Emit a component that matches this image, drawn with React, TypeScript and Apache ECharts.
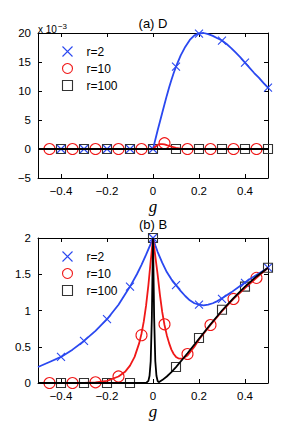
import React, { useEffect, useRef } from "react";
import * as echarts from "echarts";

// ---------- tick values ----------
const xTicks = [-0.4, -0.2, 0, 0.2, 0.4];

// ---------- (a) D, values in units of 1e-3 ----------
const gMarkA = [-0.4, -0.3, -0.2, -0.1, 0, 0.1, 0.2, 0.3, 0.4, 0.5];
const dR2Mark = [0, 0, 0, 0, 0, 14.2, 19.9, 18.7, 14.9, 10.6];
const gCircA = [-0.45, -0.35, -0.25, -0.15, -0.05, 0.05, 0.15, 0.25, 0.35, 0.45];
const dR10Mark = [0, 0, 0, 0, 0, 1.0, 0, 0, 0, 0];
const dR100Mark = [0, 0, 0, 0, 0, 0, 0, 0, 0, 0];

const gD2Line = [-0.5, 0, 0.01, 0.02, 0.03, 0.04, 0.05, 0.06, 0.07, 0.08, 0.09, 0.1, 0.12, 0.14, 0.16, 0.18, 0.2, 0.22, 0.24, 0.26, 0.28, 0.3, 0.32, 0.34, 0.36, 0.38, 0.4, 0.42, 0.44, 0.46, 0.48, 0.5];
const dR2Line = [0, 0, 1.6, 3.2, 4.7, 6.2, 7.7, 9.2, 10.6, 11.9, 13.1, 14.2, 16.1, 17.6, 18.8, 19.6, 19.95, 20.0, 19.8, 19.5, 19.1, 18.7, 18.1, 17.4, 16.6, 15.8, 14.9, 14.0, 13.1, 12.3, 11.4, 10.6];
const gD10Line = [-0.5, 0, 0.01, 0.02, 0.03, 0.04, 0.05, 0.06, 0.08, 0.1, 0.12, 0.15, 0.2, 0.5];
const dR10Line = [0, 0, 0.4, 0.7, 0.85, 0.85, 0.78, 0.65, 0.4, 0.2, 0.08, 0.02, 0, 0];
const gD100Line = [-0.5, 0.5];
const dR100Line = [0, 0];

// ---------- (b) B ----------
const bR2Mark = [0.36, 0.58, 0.88, 1.33, 2.0, 1.35, 1.08, 1.16, 1.38, 1.59];
const bR10Mark = [0, 0, 0.01, 0.09, 0.66, 0.81, 0.4, 0.8, 1.16, 1.45];
const bR100Mark = [0, 0, 0, 0, 2.0, 0.22, 0.62, 1.01, 1.33, 1.59];

const gB2Line = [-0.5, -0.45, -0.4, -0.35, -0.3, -0.25, -0.2, -0.15, -0.1, -0.07, -0.05, -0.03, -0.01, 0, 0.01, 0.02, 0.04, 0.06, 0.08, 0.1, 0.12, 0.14, 0.16, 0.18, 0.2, 0.22, 0.24, 0.26, 0.28, 0.3, 0.34, 0.38, 0.42, 0.46, 0.5];
const bR2Line = [0.22, 0.29, 0.36, 0.46, 0.58, 0.72, 0.88, 1.08, 1.33, 1.5, 1.63, 1.77, 1.92, 2.0, 1.9, 1.81, 1.66, 1.53, 1.43, 1.35, 1.27, 1.2, 1.14, 1.1, 1.08, 1.07, 1.08, 1.1, 1.13, 1.17, 1.25, 1.34, 1.43, 1.51, 1.59];
const gB10Line = [-0.5, -0.3, -0.25, -0.2, -0.15, -0.12, -0.1, -0.08, -0.06, -0.05, -0.04, -0.03, -0.02, -0.01, 0, 0.01, 0.02, 0.03, 0.04, 0.05, 0.06, 0.07, 0.08, 0.09, 0.1, 0.11, 0.12, 0.13, 0.15, 0.18, 0.2, 0.25, 0.3, 0.35, 0.4, 0.45, 0.5];
const bR10Line = [0, 0, 0.01, 0.03, 0.09, 0.16, 0.24, 0.36, 0.55, 0.68, 0.85, 1.07, 1.35, 1.68, 2.0, 1.75, 1.5, 1.22, 0.98, 0.8, 0.66, 0.55, 0.46, 0.4, 0.36, 0.34, 0.335, 0.34, 0.38, 0.5, 0.6, 0.8, 0.99, 1.16, 1.31, 1.45, 1.59];
const gB100Line = [-0.5, -0.03, -0.02, -0.015, -0.01, -0.005, 0, 0.005, 0.01, 0.015, 0.02, 0.025, 0.04, 0.06, 0.08, 0.1, 0.15, 0.2, 0.25, 0.3, 0.35, 0.4, 0.45, 0.5];
const bR100Line = [0, 0, 0.03, 0.1, 0.3, 0.9, 2.0, 0.9, 0.3, 0.1, 0.03, 0.01, 0.04, 0.09, 0.15, 0.22, 0.41, 0.61, 0.81, 1.0, 1.17, 1.33, 1.47, 1.59];

const BLUE = "#2a48f0";
const RED = "#f01818";
const BLACK = "#000000";
const SQ = "#333333";
const FONT = "Liberation Sans, Arial, Helvetica, sans-serif";
const CROSS = "path://M0,0L10,10M10,0L0,10";
const SQUARE = "path://M0,0L10,0L10,10L0,10Z";

const zip = (xs: number[], ys: number[]) => xs.map((x, i) => [x, ys[i]]);
const fmtMinus = (v: number) => String(v).replace("-", "\u2212");

function App() {
  const ref = useRef<HTMLDivElement>(null);
  useEffect(() => {
    if (!ref.current) return;
    document.body.style.margin = "0";
    const chart = echarts.init(ref.current, undefined, { renderer: "svg" });

    const grids = [
      { left: 38, right: 27, top: 33, height: 145 },
      { left: 38, right: 27, top: 238, height: 145 },
    ];

    const axisLine = { show: true, onZero: false, lineStyle: { color: BLACK, width: 1 } };
    const tickStyle = { inside: true, length: 4, lineStyle: { color: BLACK, width: 1 } };
    const labelStyle = { color: "#000", fontSize: 11.5, fontFamily: FONT };

    const xAxes: any[] = [];
    const yAxes: any[] = [];
    [0, 1].forEach((gi) => {
      xAxes.push({
        gridIndex: gi, type: "value", min: -0.5, max: 0.5, position: "bottom",
        axisLine, splitLine: { show: false },
        axisTick: { ...tickStyle, customValues: xTicks },
        axisLabel: { ...labelStyle, margin: 7, customValues: xTicks, formatter: fmtMinus },
        name: "g", nameLocation: "middle", nameGap: 11,
        nameTextStyle: { fontFamily: "Liberation Serif, DejaVu Serif, serif", fontStyle: "italic", fontSize: 17, color: "#000" },
      });
      xAxes.push({
        gridIndex: gi, type: "value", min: -0.5, max: 0.5, position: "top",
        axisLine, splitLine: { show: false },
        axisTick: { ...tickStyle, customValues: xTicks },
        axisLabel: { show: false },
      });
      const ymin = gi === 0 ? -5 : 0;
      const ymax = gi === 0 ? 20 : 2;
      const yint = gi === 0 ? 5 : 0.5;
      yAxes.push({
        gridIndex: gi, type: "value", min: ymin, max: ymax, interval: yint, position: "left",
        axisLine, splitLine: { show: false }, axisTick: tickStyle,
        axisLabel: { ...labelStyle, margin: 7, formatter: fmtMinus },
      });
      yAxes.push({
        gridIndex: gi, type: "value", min: ymin, max: ymax, interval: yint, position: "right",
        axisLine, splitLine: { show: false }, axisTick: tickStyle,
        axisLabel: { show: false },
      });
    });

    const marker = (name: string, gi: number, data: number[][], kind: string) => ({
      name, type: "scatter", xAxisIndex: gi * 2, yAxisIndex: gi * 2, clip: false,
      data,
      symbol: kind === "x" ? CROSS : kind === "o" ? "circle" : SQUARE,
      symbolSize: kind === "x" ? 8 : kind === "o" ? 11 : 9,
      itemStyle: {
        color: "none",
        borderColor: kind === "x" ? BLUE : kind === "o" ? RED : SQ,
        borderWidth: 1.1,
        opacity: 1,
      },
      emphasis: { disabled: true },
    });
    const curve = (name: string, gi: number, data: number[][], color: string, w = 1.8) => ({
      name, type: "line", xAxisIndex: gi * 2, yAxisIndex: gi * 2,
      data, showSymbol: false, symbol: "none",
      lineStyle: { color, width: w }, itemStyle: { color },
      emphasis: { disabled: true },
    });

    const legendBase = {
      orient: "vertical", left: 55, itemWidth: 28, itemHeight: 10, itemGap: 2,
      symbolKeepAspect: true,
      data: ["r=2", "r=10", "r=100"],
      itemStyle: { borderWidth: 1.1 },
      textStyle: { color: "#000", fontSize: 12, fontFamily: FONT, lineHeight: 12 },
      selectedMode: false,
    };

    chart.setOption({
      animation: false,
      backgroundColor: "#fff",
      grid: grids,
      xAxis: xAxes,
      yAxis: yAxes,
      legend: [
        { ...legendBase, top: 39 },
        { ...legendBase, top: 244 },
      ],
      graphic: [
        { type: "text", x: 153, y: 17, style: { text: "(a) D", fontSize: 13, fontFamily: FONT, fill: "#000", textAlign: "center" } },
        { type: "text", x: 153, y: 218, style: { text: "(b) B", fontSize: 13, fontFamily: FONT, fill: "#000", textAlign: "center" } },
        {
          type: "text", x: 38, y: 22,
          style: {
            text: "x 10{sup|\u22123}", fontSize: 10, fontFamily: FONT, fill: "#000",
            rich: { sup: { fontSize: 8, fontFamily: FONT, fill: "#000", verticalAlign: "top", padding: [0, 0, 6, 1] } },
          },
        },
      ],
      series: [
        marker("r=2", 0, zip(gMarkA, dR2Mark), "x"),
        marker("r=10", 0, zip(gCircA, dR10Mark), "o"),
        marker("r=100", 0, zip(gMarkA, dR100Mark), "s"),
        curve("D r=2 curve", 0, zip(gD2Line, dR2Line), BLUE),
        curve("D r=10 curve", 0, zip(gD10Line, dR10Line), RED),
        curve("D r=100 curve", 0, zip(gD100Line, dR100Line), BLACK),
        marker("r=2", 1, zip(gMarkA, bR2Mark), "x"),
        marker("r=10", 1, zip(gCircA, bR10Mark), "o"),
        marker("r=100", 1, zip(gMarkA, bR100Mark), "s"),
        curve("B r=2 curve", 1, zip(gB2Line, bR2Line), BLUE),
        curve("B r=10 curve", 1, zip(gB10Line, bR10Line), RED),
        curve("B r=100 curve", 1, zip(gB100Line, bR100Line), BLACK),
      ],
    });
    return () => chart.dispose();
  }, []);
  return <div ref={ref} style={{ width: 295, height: 432 }} />;
}

export default App;
